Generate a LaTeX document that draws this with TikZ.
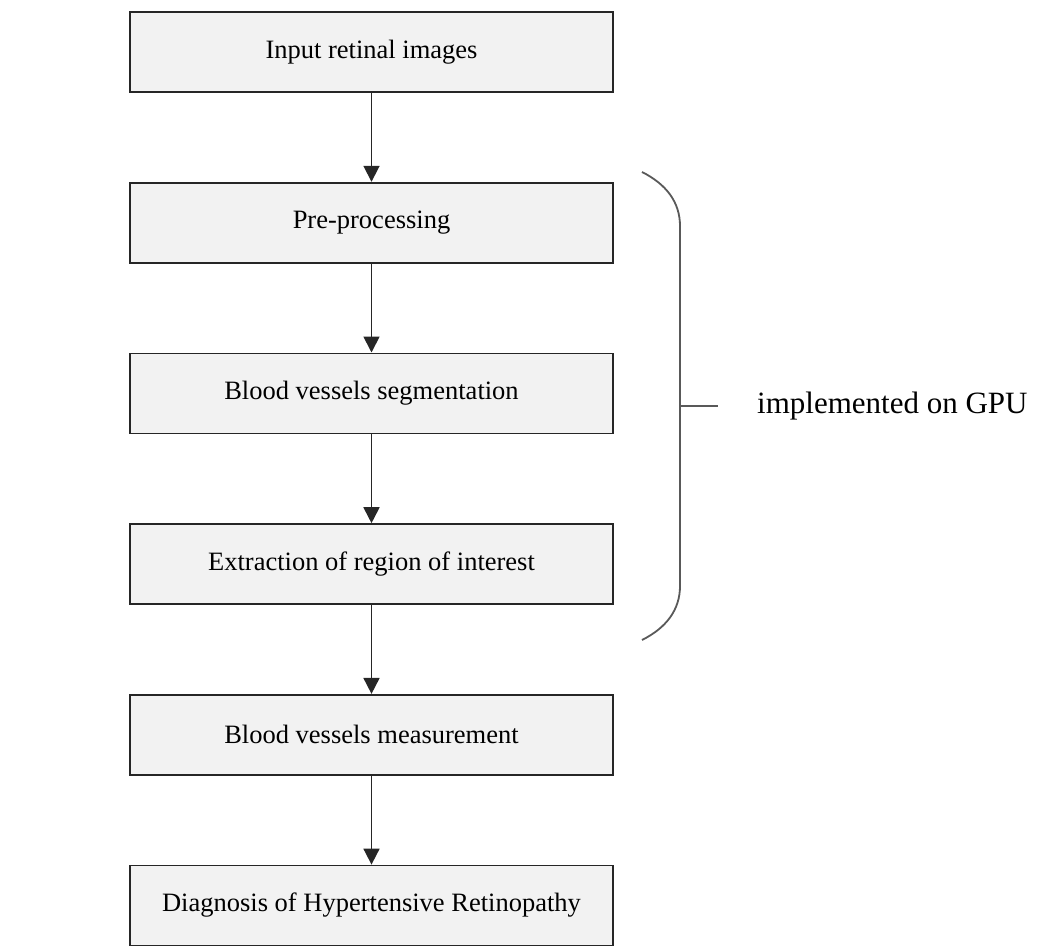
\documentclass[tikz,border=0pt]{standalone}
\usepackage{fontspec}
\setmainfont{Liberation Serif}
\usetikzlibrary{arrows.meta}
\begin{document}
\begin{tikzpicture}[x=1pt,y=-1pt,
  stepbox/.style={draw=black!85, fill=black!5, line width=1.8pt, minimum width=483pt, minimum height=80pt, inner sep=0pt, font=\fontsize{26.5}{30}\selectfont},
  flow/.style={draw=black!85, line width=1.8pt, -{Triangle[width=16pt,length=16pt]}},
  bracestyle/.style={draw=black!65, line width=1.8pt}
]
\useasboundingbox (0,0) rectangle (1040,947);
\node[stepbox] (n1) at (371.5,52) {Input retinal images};
\node[stepbox] (n2) at (371.5,222.7) {Pre-processing};
\node[stepbox] (n3) at (371.5,393.4) {Blood vessels segmentation};
\node[stepbox] (n4) at (371.5,564.1) {Extraction of region of interest};
\node[stepbox] (n5) at (371.5,734.8) {Blood vessels measurement};
\node[stepbox] (n6) at (371.5,905.5) {Diagnosis of Hypertensive Retinopathy};
\draw[flow] (n1) -- (n2);
\draw[flow] (n2) -- (n3);
\draw[flow] (n3) -- (n4);
\draw[flow] (n4) -- (n5);
\draw[flow] (n5) -- (n6);
\coordinate (btop) at (642,172);
\coordinate (bbot) at (642,640);
\coordinate (bmid) at (680,406);
\draw[bracestyle] (btop) .. controls (666,184) and (680,202) .. (680,226) -- (680,586) .. controls (680,610) and (666,628) .. (bbot);
\node[anchor=west, inner sep=0pt, font=\fontsize{31}{34}\selectfont] (gpu) at (757,406) {implemented on GPU};
\coordinate (tickend) at (718,406);
\draw[bracestyle] (bmid) -- (tickend);
\end{tikzpicture}
\end{document}
